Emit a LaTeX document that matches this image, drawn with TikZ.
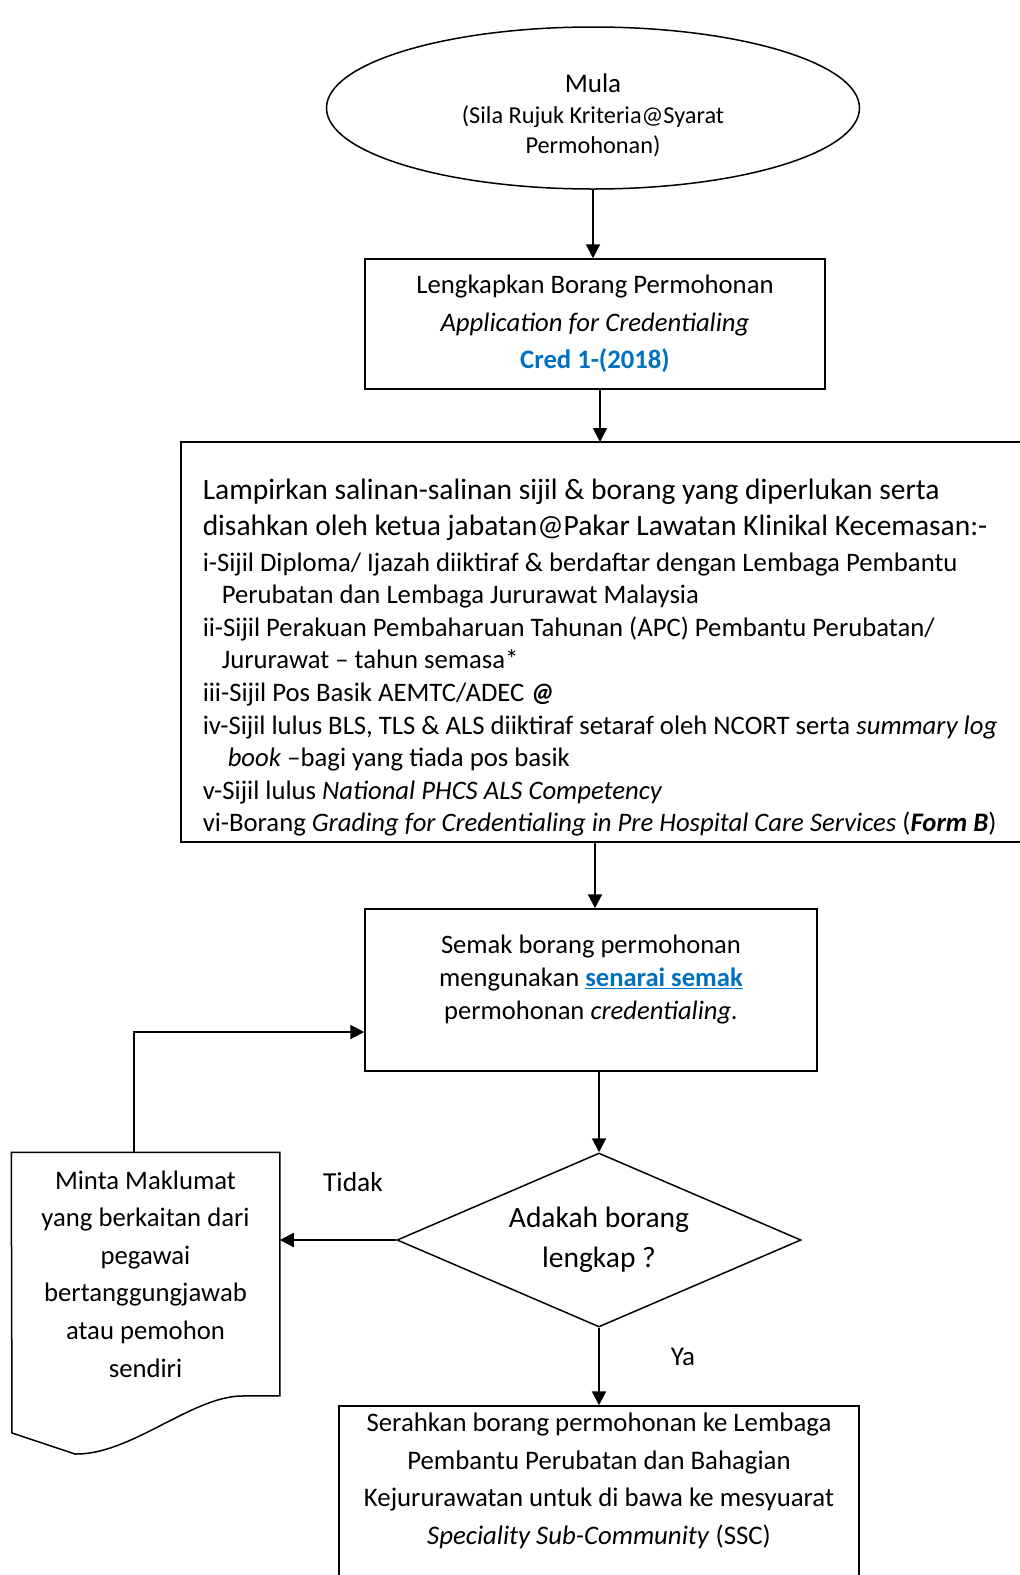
\documentclass[tikz,border=0pt]{standalone}
\usepackage{fontspec}
\setmainfont{Carlito}
\usetikzlibrary{shapes.geometric,arrows.meta}
\definecolor{credblue}{RGB}{0,112,192}
\newcommand{\fs}[2]{\fontsize{#1}{#2}\selectfont}

\begin{document}
\begin{tikzpicture}[x=1pt,y=-1pt,line width=1.5pt,
	box/.style={draw,rectangle,inner sep=0pt},
	txt/.style={inner sep=0pt,align=center},
	arr/.style={line width=2pt,-{Triangle[length=14pt,width=14pt]}}]
		\tikzstyle{every node}+=[inner sep=0pt]
		\useasboundingbox (0,0) rectangle (1020,1575);
		\node [draw,ellipse,minimum width=533pt,minimum height=162pt] (mula) at (593,108) {};
		\node [txt,font=\fs{24.3}{30.5}] (mulatxt) at (593,115.5)
			{{\fs{27}{30.5}Mula}\\(Sila Rujuk Kriteria@Syarat\\Permohonan)};
		\node [box,minimum width=460pt,minimum height=130pt,txt,font=\fs{26.7}{37.5}] (lengkap) at (595,324)
			{Lengkapkan Borang Permohonan\\\textit{Application for Credentialing}\\\textcolor{credblue}{\textbf{Cred 1-(2018)}}};
		\node [box,minimum width=841pt,minimum height=400pt] (lampir) at (601.5,642) {};
		\node [txt,align=left,anchor=north west,font=\fs{26.7}{32.6}] (lampirtxt) at (202,478.5)
			{\fs{29.5}{32.6}Lampirkan salinan-salinan sijil \& borang yang diperlukan serta\\[3.6pt]
			\fs{29.5}{32.6}disahkan oleh ketua jabatan@Pakar Lawatan Klinikal Kecemasan:-\\[2.6pt]
			i-Sijil Diploma/ Ijazah diiktiraf \& berdaftar dengan Lembaga Pembantu\\
			\hspace*{19pt}Perubatan dan Lembaga Jururawat Malaysia\\
			ii-Sijil Perakuan Pembaharuan Tahunan (APC) Pembantu Perubatan/\\
			\hspace*{19pt}Jururawat -- tahun semasa*\\
			iii-Sijil Pos Basik AEMTC/ADEC \textbf{\textit{@}}\\
			iv-Sijil lulus BLS, TLS \& ALS diiktiraf setaraf oleh NCORT serta \textit{summary log}\\
			\hspace*{25pt}\textit{book} --bagi yang tiada pos basik\\
			v-Sijil lulus \textit{National PHCS ALS Competency}\\
			vi-Borang \textit{Grading for Credentialing in Pre Hospital Care Services} (\textbf{\textit{Form B}})};
		\node [box,minimum width=452pt,minimum height=162pt] (semak) at (591,990) {};
		\node [txt,font=\fs{26.6}{33}] (semaktxt) at (591,980)
			{Semak borang permohonan\\mengunakan \textcolor{credblue}{\underline{\textbf{senarai semak}}}\\permohonan \textit{credentialing.}};
		\node [draw,diamond,aspect=2.3,minimum width=404pt,minimum height=174pt,txt,font=\fs{29.5}{40}] (lengkapq) at (599,1240)
			{Adakah borang\\lengkap ?};
		\node [minimum width=267pt,minimum height=242pt,txt,font=\fs{26.7}{37.6}] (minta) at (145.5,1274)
			{Minta Maklumat\\yang berkaitan dari\\pegawai\\bertanggungjawab\\atau pemohon\\sendiri};
		\draw (minta.north west) -- (minta.north east) -- (minta.south east) -- (240,1396)
			.. controls (190,1398) and (130,1455) .. (75,1454) -- (12,1433) -- cycle;
		\node [box,minimum width=520pt,minimum height=200pt] (serah) at (599,1506) {};
		\node [txt,font=\fs{26.8}{37.6}] (serahtxt) at (599,1481)
			{Serahkan borang permohonan ke Lembaga\\Pembantu Perubatan dan Bahagian\\Kejururawatan untuk di bawa ke mesyuarat\\\textit{Speciality Sub-Community} (SSC)};
		\coordinate (balik) at (134,1032);
		\draw [arr] (mula) -- (mula |- lengkap.north);
		\draw [arr] (600,388) -- (600,442);
		\draw [arr] (lampir.south -| 595,0) -- (semak.north -| 595,0);
		\draw [arr] (lengkapq.north |- semak.south) -- (lengkapq.north);
		\draw [arr] (lengkapq.west) -- (lengkapq.west -| minta.east);
		\draw [arr] (lengkapq.south) -- (serah.north);
		\draw [arr] (minta.north -| balik) -- (balik) -- (semak.west |- balik);
		\node [font=\fs{27.5}{30}] (tidak) at (353,1182) {Tidak};
		\node [font=\fs{27}{30}] (ya) at (683,1357) {Ya};
	\end{tikzpicture}
\end{document}
